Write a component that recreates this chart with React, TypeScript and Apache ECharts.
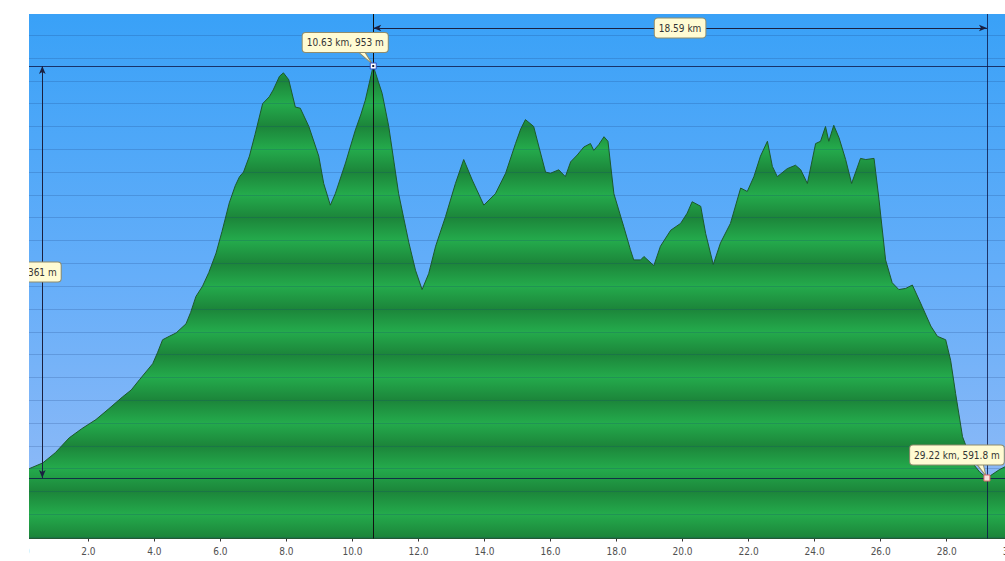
import { useEffect, useRef } from "react";
import * as echarts from "echarts";

// Elevation profile (distance in km, elevation in m)
const distanceKm = [
  0.0, 0.21, 0.62, 1.0, 1.42, 1.8, 2.23, 2.6, 3.04, 3.3, 3.55, 3.95, 4.1, 4.25, 4.45, 4.66, 4.96, 5.1, 5.26, 5.46,
  5.65, 5.87, 6.05, 6.27, 6.45, 6.58, 6.7, 6.88, 7.05, 7.28, 7.48, 7.6, 7.79, 7.91, 8.07, 8.27, 8.42, 8.68, 8.98, 9.13,
  9.33, 9.48, 9.79, 10.09, 10.25, 10.39, 10.63, 10.9, 11.1, 11.4, 11.71, 11.91, 12.11, 12.31, 12.52, 12.82, 13.12, 13.37, 13.63, 13.98,
  14.33, 14.64, 14.94, 15.1, 15.24, 15.49, 15.65, 15.85, 16.0, 16.25, 16.45, 16.61, 16.81, 17.01, 17.21, 17.31, 17.46, 17.62, 17.74, 17.92,
  18.22, 18.42, 18.52, 18.73, 18.83, 19.13, 19.33, 19.64, 19.94, 20.14, 20.29, 20.55, 20.7, 20.93, 21.15, 21.45, 21.76, 21.96, 22.16, 22.36,
  22.57, 22.72, 22.87, 23.17, 23.42, 23.58, 23.78, 24.03, 24.18, 24.33, 24.43, 24.58, 24.74, 24.94, 25.12, 25.39, 25.55, 25.8, 25.95, 26.15,
  26.35, 26.55, 26.76, 26.96, 27.26, 27.52, 27.72, 27.97, 28.12, 28.27, 28.48, 28.78, 29.0, 29.22, 29.59, 29.79, 30.0,
];
const elevationM = [
  597, 600, 605, 614, 627, 635, 643, 652, 663, 669, 678, 692, 702, 713, 716, 719, 727, 737, 751, 760,
  772, 789, 808, 833, 848, 856, 860, 874, 893, 920, 926, 932, 944, 947, 941, 917, 916, 900, 874, 850,
  831, 841, 868, 897, 910, 923, 953, 929, 900, 841, 798, 774, 757, 771, 795, 821, 850, 871, 853, 831,
  841, 859, 885, 898, 906, 900, 882, 860, 859, 862, 856, 869, 875, 882, 885, 879, 884, 891, 887, 841,
  812, 792, 783, 783, 786, 778, 795, 809, 815, 824, 834, 830, 806, 779, 798, 815, 846, 843, 856, 874,
  887, 865, 856, 863, 866, 862, 850, 885, 887, 900, 887, 901, 890, 871, 850, 872, 871, 872, 836, 783,
  763, 757, 758, 761, 742, 725, 716, 713, 695, 666, 628, 605, 597, 591.8, 599, 602, 604,
];

// horizontal reference levels (m)
const gridLevels = [540, 560, 580, 600, 620, 640, 660, 680, 700, 720, 740, 760, 780, 800, 820, 840, 860, 880, 900, 920, 940, 960, 980];

const peakPoint = [10.63, 953];
const lowPoint = [29.22, 591.8];
const peakLabel = "10.63 km, 953 m";
const lowLabel = "29.22 km, 591.8 m";
const spanLabel = "18.59 km";
const riseLabel = "361 m";

const X_MIN = 0;
const X_MAX = 30;
const X_STEP = 2;
const Y_MIN = 538.76;
const Y_MAX = 998.59;
const DIM_Y = 986.3; // level of the horizontal distance measure
const DIM_X = 0.606; // position of the vertical height measure

const FONT = "Tahoma, 'DejaVu Sans Condensed', 'DejaVu Sans', sans-serif";

export default function App() {
  const ref = useRef<HTMLDivElement>(null);

  useEffect(() => {
    const chart = echarts.init(ref.current!, null, { renderer: "svg" });

    const gridTop = 14;
    const gridBottomPx = 538.5;
    const pxPerM = (gridBottomPx - gridTop) / (Y_MAX - Y_MIN);
    const yPx = (m: number) => gridTop + (Y_MAX - m) * pxPerM;

    // banded green fill: dark at levels = 20 (mod 40), light at 0 (mod 40)
    const bandTop = 1000;
    const bandBottom = 520;
    const stops: { offset: number; color: string }[] = [];
    for (let m = bandTop; m >= bandBottom; m -= 20) {
      stops.push({
        offset: (bandTop - m) / (bandTop - bandBottom),
        color: m % 40 === 20 ? "#1c853a" : "#24ab4c",
      });
    }
    const greenFill = new echarts.graphic.LinearGradient(0, yPx(bandTop), 0, yPx(bandBottom), stops, true);

    const skyFill = new echarts.graphic.LinearGradient(0, 0, 0, 1, [
      { offset: 0, color: "#39a1f7" },
      { offset: 0.5, color: "#65aef9" },
      { offset: 1, color: "#97bcf6" },
    ]);

    const refLine = { color: "rgba(12,22,70,0.8)", width: 1, type: "solid" as const };
    const gridLine = { color: "rgba(20,55,120,0.2)", width: 1, type: "solid" as const };

    const boxLabel = (text: string, offset: number[]) => ({
      show: true,
      position: "inside",
      offset,
      formatter: text,
      color: "#333",
      fontSize: 10,
      fontFamily: FONT,
      lineHeight: 12,
      backgroundColor: "#fffbd3",
      borderColor: "#8f8c6c",
      borderWidth: 1,
      borderRadius: 3,
      padding: [3.5, 4, 3.5, 4],
    });

    chart.setOption({
      animation: false,
      grid: {
        left: 22.3,
        right: 1100 - 1012.7,
        top: gridTop,
        bottom: 561 - gridBottomPx,
        show: true,
        backgroundColor: skyFill,
        borderWidth: 0,
      },
      xAxis: {
        type: "value",
        min: X_MIN,
        max: X_MAX,
        interval: X_STEP,
        axisLine: { show: true, lineStyle: { color: "#2a2a2a", width: 1 } },
        axisTick: { show: true, length: 3, lineStyle: { color: "#333" } },
        axisLabel: {
          color: "#505050",
          fontSize: 10,
          fontFamily: FONT,
          margin: 8,
          formatter: (v: number) => v.toFixed(1),
        },
        splitLine: { show: false },
      },
      yAxis: {
        type: "value",
        min: Y_MIN,
        max: Y_MAX,
        show: false,
        splitLine: { show: false },
      },
      graphic: [
        {
          type: "rect",
          left: 0,
          top: 0,
          shape: { width: 29, height: 561 },
          style: { fill: "#ffffff" },
          z: 100,
          silent: true,
        },
      ],
      series: [
        {
          type: "line",
          data: distanceKm.map((d, i) => [d, elevationM[i]]),
          showSymbol: false,
          smooth: false,
          lineStyle: { color: "#1d592b", width: 1 },
          areaStyle: { color: greenFill, opacity: 1, origin: "start" },
          markLine: {
            silent: true,
            symbol: ["none", "none"],
            label: { show: false },
            data: [
              ...gridLevels.map((v) => ({ yAxis: v, lineStyle: gridLine })),
              { yAxis: peakPoint[1], lineStyle: refLine },
              { yAxis: lowPoint[1], lineStyle: refLine },
              { xAxis: peakPoint[0], lineStyle: { color: "#111", width: 1, type: "solid" } },
              { xAxis: lowPoint[0], lineStyle: refLine },
              [
                { coord: [peakPoint[0], DIM_Y], symbol: "arrow", symbolSize: [5, 8] },
                { coord: [lowPoint[0], DIM_Y], symbol: "arrow", symbolSize: [5, 8], lineStyle: { color: "#1a2040", width: 1, type: "solid" } },
              ],
              [
                { coord: [DIM_X, peakPoint[1]], symbol: "arrow", symbolSize: [5, 8] },
                { coord: [DIM_X, lowPoint[1]], symbol: "arrow", symbolSize: [5, 8], lineStyle: { color: "#1a2040", width: 1, type: "solid" } },
              ],
            ],
          },
          markPoint: {
            silent: true,
            data: [
              {
                coord: peakPoint,
                symbol: "path://M0,0 L15,13 L7,0",
                symbolSize: [15, 13],
                symbolOffset: [-8.5, -8.5],
                itemStyle: { color: "#fffbd3", borderColor: "#8f8c6c", borderWidth: 1 },
                label: { show: false },
              },
              {
                coord: lowPoint,
                symbol: "path://M0,0 L10,13 L7,0",
                symbolSize: [10, 13],
                symbolOffset: [-6, -8.5],
                itemStyle: { color: "#fffbd3", borderColor: "#8f8c6c", borderWidth: 1 },
                label: { show: false },
              },
              {
                coord: peakPoint,
                symbol: "circle",
                symbolSize: 1,
                itemStyle: { color: "rgba(0,0,0,0)" },
                label: boxLabel(peakLabel, [-28, -23.5]),
              },
              {
                coord: lowPoint,
                symbol: "circle",
                symbolSize: 1,
                itemStyle: { color: "rgba(0,0,0,0)" },
                label: boxLabel(lowLabel, [-30, -23]),
              },
              {
                coord: [(peakPoint[0] + lowPoint[0]) / 2, DIM_Y],
                symbol: "circle",
                symbolSize: 1,
                itemStyle: { color: "rgba(0,0,0,0)" },
                label: boxLabel(spanLabel, [0, 0]),
              },
              {
                coord: [DIM_X, (peakPoint[1] + lowPoint[1]) / 2],
                symbol: "circle",
                symbolSize: 1,
                itemStyle: { color: "rgba(0,0,0,0)" },
                label: boxLabel(riseLabel, [0, 0]),
              },
              {
                coord: peakPoint,
                symbol: "rect",
                symbolSize: 6,
                itemStyle: { color: "#ffffff", borderColor: "#2d4fc8", borderWidth: 1 },
                label: { show: false },
              },
              {
                coord: peakPoint,
                symbol: "rect",
                symbolSize: 2,
                itemStyle: { color: "#1a2040" },
                label: { show: false },
              },
              {
                coord: lowPoint,
                symbol: "rect",
                symbolSize: 6,
                itemStyle: { color: "#fbe3df", borderColor: "#d66a6a", borderWidth: 1 },
                label: { show: false },
              },
            ],
          },
        },
      ],
    });

    return () => chart.dispose();
  }, []);

  return (
    <div
      style={{
        position: "fixed",
        left: 0,
        top: 0,
        width: 1005,
        height: 561,
        overflow: "hidden",
        background: "#ffffff",
      }}
    >
      <div ref={ref} style={{ position: "absolute", left: 0, top: 0, width: 1100, height: 561 }} />
    </div>
  );
}
